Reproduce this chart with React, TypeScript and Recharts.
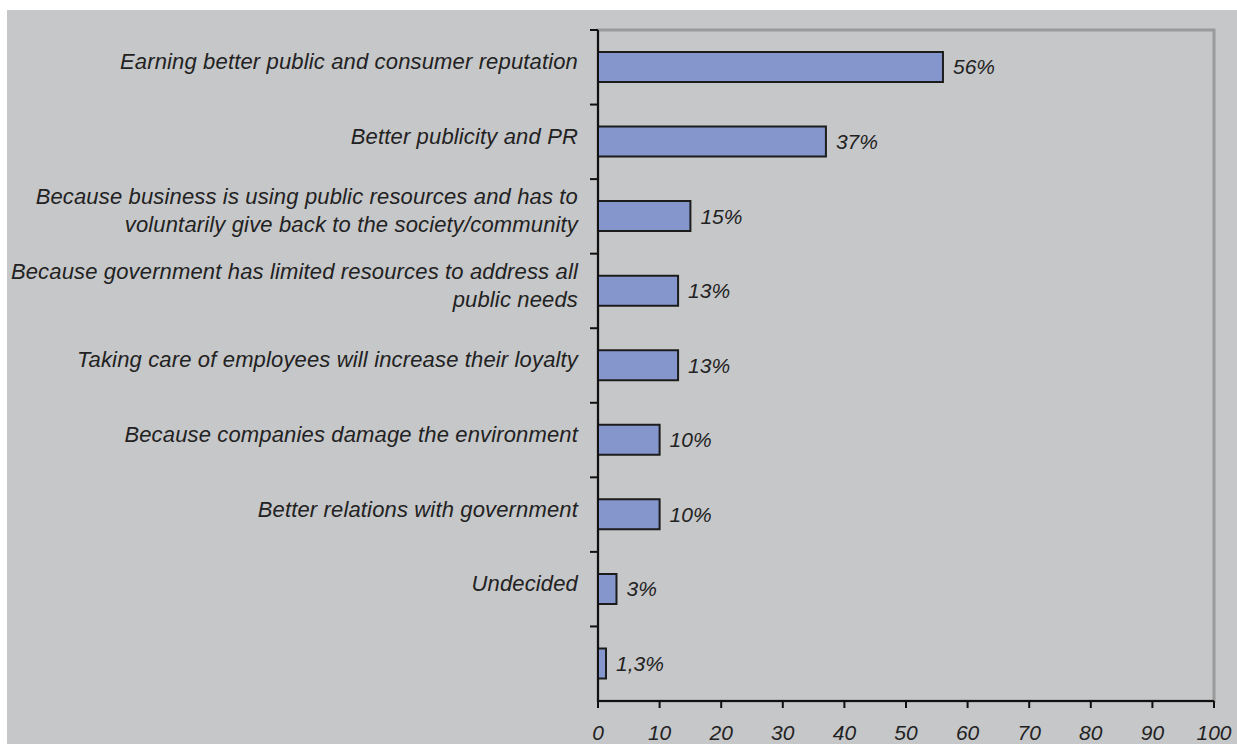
import { BarChart, Bar, XAxis, YAxis, ReferenceArea, LabelList } from "recharts";

const reasons = [
  "Earning better public and consumer reputation",
  "Better publicity and PR",
  "Because business is using public resources and has to\nvoluntarily give back to the society/community",
  "Because government has limited resources to address all\npublic needs",
  "Taking care of employees will increase their loyalty",
  "Because companies damage the environment",
  "Better relations with government",
  "Undecided",
  "",
];
const shares = [56, 37, 15, 13, 13, 10, 10, 3, 1.3];
const xTicks = [0, 10, 20, 30, 40, 50, 60, 70, 80, 90, 100];

const data = reasons.map((reason, i) => ({ reason, share: shares[i] }));

const FONT = "'Liberation Sans', Arial, sans-serif";

// category ticks: label centred on the band, tick mark on the band's upper edge
function ReasonTick(props: any) {
  const { x, y, payload } = props;
  const half = payload.offset || 0;
  const lines = String(payload.value).split("\n");
  const n = lines.length;
  return (
    <g>
      <line x1={x + 12} x2={x + 20} y1={y - half} y2={y - half} stroke="#111" strokeWidth={2} />
      <text
        x={x}
        y={y}
        textAnchor="end"
        fontFamily={FONT}
        fontStyle="italic"
        fontSize={22}
        letterSpacing={0.15}
        fill="#222"
      >
        {lines.map((line, i) => (
          <tspan key={i} x={x} y={y + (i - (n - 1) / 2) * 28 - 6} dy="0.36em">
            {line}
          </tspan>
        ))}
      </text>
    </g>
  );
}

export default function App() {
  return (
    <div style={{ position: "absolute", left: 7, top: 10, width: 1230, height: 734, background: "#c6c7c9" }}>
      <BarChart
        width={1230}
        height={734}
        data={data}
        layout="vertical"
        margin={{ top: 20, right: 23, bottom: 3, left: 0 }}
      >
        <ReferenceArea
          x1={0}
          x2={100}
          fill="none"
          stroke="#9a9a9a"
          strokeWidth={3}
          ifOverflow="visible"
        />
        <XAxis
          type="number"
          domain={[0, 100]}
          ticks={xTicks}
          height={40}
          axisLine={{ stroke: "#111", strokeWidth: 2 }}
          tickLine={{ stroke: "#111", strokeWidth: 2 }}
          tickSize={7}
          tickMargin={17}
          tick={{ fontFamily: FONT, fontStyle: "italic", fontSize: 21, fill: "#222" }}
        />
        <YAxis
          type="category"
          dataKey="reason"
          width={591}
          axisLine={{ stroke: "#111", strokeWidth: 2 }}
          tickLine={false}
          tickSize={0}
          tickMargin={20}
          interval={0}
          tick={<ReasonTick />}
        />
        <Bar
          dataKey="share"
          barSize={30}
          fill="#8596cc"
          stroke="#1c1c1c"
          strokeWidth={2}
          isAnimationActive={false}
        >
          <LabelList
            dataKey="share"
            position="right"
            offset={10}
            formatter={(v: any) => String(v).replace(".", ",") + "%"}
            style={{ fontFamily: FONT, fontStyle: "italic", fontSize: 21, fill: "#222" }}
          />
        </Bar>
      </BarChart>
    </div>
  );
}
